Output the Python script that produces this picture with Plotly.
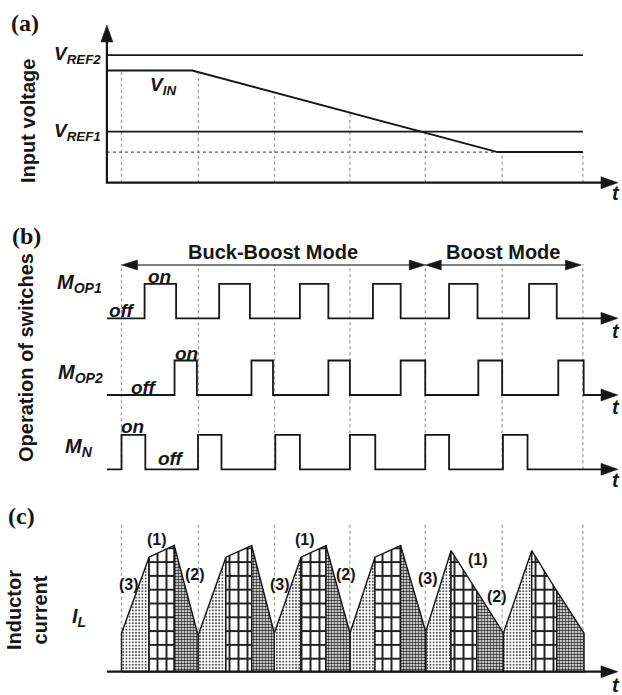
import numpy as np
import plotly.graph_objects as go

W, H = 622, 695

# ---------------- data (time in switching periods) ----------------
period_edges = [0.0, 1.0, 1.99, 2.97, 3.95, 4.95, 6.0]

# (a) input voltage
vref2 = 5.0
vref1 = 2.0
vin_t = [-0.19, 0.92, 4.89, 6.0]
vin_v = [4.4, 4.4, 1.2, 1.2]

# (b) switch on-intervals
mop1_on = [(0.30, 0.71), (1.27, 1.67), (2.32, 2.69), (3.27, 3.63), (4.26, 4.63), (5.30, 5.66)]
mop2_on = [(0.69, 0.98), (1.69, 1.97), (2.69, 2.97), (3.63, 3.95), (4.64, 4.95), (5.68, 6.01)]
mn_on = [(0.0, 0.31), (0.995, 1.30), (2.0, 2.32), (2.97, 3.30), (3.95, 4.26), (4.96, 5.28)]

mode_names = ["Buck-Boost Mode", "Boost Mode"]
mode_start = [0.0, 3.95]
mode_end = [3.95, 5.98]

# (c) inductor current per period: start, end of phase (3), end of phase (1), end of phase (2)
il_t = [
    [0.0, 0.358, 0.686, 0.996],
    [0.996, 1.358, 1.693, 1.987],
    [1.987, 2.334, 2.659, 2.971],
    [2.971, 3.296, 3.630, 3.956],
    [3.956, 4.285, 4.619, 4.966],
    [4.966, 5.335, 5.660, 6.015],
]
il_v = [
    [1.54, 4.58, 5.05, 1.45],
    [1.45, 4.58, 5.04, 1.54],
    [1.54, 4.58, 5.04, 1.54],
    [1.54, 4.58, 5.04, 1.60],
    [1.60, 4.84, 3.23, 1.54],
    [1.54, 4.84, 3.23, 1.54],
]

# ---------------- layout helpers ----------------
X0_PX, PERIOD_PX = 121.5, 76.9
T_AX0 = -0.19          # left end of time axes
T_AX1 = 6.456          # arrow tip of time axes


def yaxis_cfg(px_top, px_bot, px_zero, ppu):
    return dict(domain=[1 - px_bot / H, 1 - px_top / H],
                range=[(px_zero - px_bot) / ppu, (px_zero - px_top) / ppu],
                visible=False, anchor="x", fixedrange=True)


def tx(px):
    return (px - X0_PX) / PERIOD_PX


A_ZERO, A_PPU = 182.7, 25.5
B_ZERO, B_PPU = 469.3, 34.5
C_ZERO, C_PPU = 671.7, 25.0
PPU = {"y": A_PPU, "y2": B_PPU, "y3": C_PPU}


def ya(px):
    return (A_ZERO - px) / A_PPU


def yb(px):
    return (B_ZERO - px) / B_PPU


def yc(px):
    return (C_ZERO - px) / C_PPU


row_base = {"mop1": yb(318.3), "mop2": yb(395.0), "mn": 0.0}

fig = go.Figure()
BLACK = "#161616"
DASH = "#a0a0a0"


def line(x, y, yref, color=BLACK, width=1.8, dash=None):
    fig.add_trace(go.Scatter(x=x, y=y, mode="lines", yaxis=yref, hoverinfo="skip",
                             line=dict(color=color, width=width, dash=dash)))


def head(x, y, yref, direction, length=17, half=6, color=BLACK):
    ppu = PPU[yref]
    if direction in ("right", "left"):
        d = length / PERIOD_PX * (1 if direction == "right" else -1)
        h = half / ppu
        xs, ys = [x, x - d, x - d, x], [y, y + h, y - h, y]
    else:
        d = length / ppu
        h = half / PERIOD_PX
        xs, ys = [x, x - h, x + h, x], [y, y - d, y - d, y]
    fig.add_trace(go.Scatter(x=xs, y=ys, mode="lines", yaxis=yref, fill="toself",
                             fillcolor=color, hoverinfo="skip",
                             line=dict(width=0.5, color=color)))


# ---------------- panel (a) ----------------
vin_at = np.interp(period_edges, vin_t, vin_v)
for t, v in zip(period_edges, vin_at):
    line([t, t], [0, v], "y", color=DASH, width=1.3, dash="3px,3px")
line([T_AX0, vin_t[2]], [vin_v[-1], vin_v[-1]], "y", color="#555", width=1.4, dash="dot")
line([T_AX0, period_edges[-1]], [vref2, vref2], "y", width=1.8)
line([T_AX0, period_edges[-1]], [vref1, vref1], "y", width=1.8)
line(vin_t, vin_v, "y", width=2.0)
line([T_AX0, T_AX0, T_AX1 - 0.1], [ya(30), 0, 0], "y", width=2.2)
head(T_AX0, ya(25), "y", "up")
head(T_AX1, 0, "y", "right")

# ---------------- panel (b) ----------------
for t in period_edges:
    line([t, t], [0, yb(264)], "y2", color=DASH, width=1.3, dash="3px,3px")


def step_wave(on_list, base):
    xs, ys = [T_AX0], [base]
    for a, b in on_list:
        xs += [a, a, b, b]
        ys += [base, base + 1, base + 1, base]
    xs.append(T_AX1 - 0.1)
    ys.append(base)
    return xs, ys


for key, on in (("mop1", mop1_on), ("mop2", mop2_on), ("mn", mn_on)):
    xs, ys = step_wave(on, row_base[key])
    line(xs, ys, "y2", width=1.8)
    head(T_AX1, row_base[key], "y2", "right")

arrow_y = yb(265)
for name, s, e in zip(mode_names, mode_start, mode_end):
    line([s + 0.05, e - 0.05], [arrow_y, arrow_y], "y2", color="#555", width=1.6)
    head(s, arrow_y, "y2", "left", length=16, half=5)
    head(e, arrow_y, "y2", "right", length=16, half=5)

# ---------------- panel (c) ----------------
for t in period_edges:
    line([t, t], [0, yc(523.3)], "y3", color=DASH, width=1.3, dash="3px,3px")

regions = [[], [], []]
for ts, vs in zip(il_t, il_v):
    for k in range(3):
        regions[k].append(([ts[k], ts[k], ts[k + 1], ts[k + 1], ts[k]],
                           [0, vs[k], vs[k + 1], 0, 0]))


def poly_trace(polys, pattern_list):
    xs, ys = [], []
    for px_, py_ in polys:
        xs += px_ + [None]
        ys += py_ + [None]
    for i, pat in enumerate(pattern_list):
        last = i == len(pattern_list) - 1
        fig.add_trace(go.Scatter(
            x=xs, y=ys, mode="lines", yaxis="y3", fill="toself", hoverinfo="skip",
            connectgaps=False,
            line=dict(color=BLACK, width=1.4 if last else 0),
            fillpattern=pat))


poly_trace(regions[0], [dict(shape=".", size=3.2, solidity=0.28, fgcolor="#4a4a4a",
                             bgcolor="white", fillmode="replace")])
poly_trace(regions[1], [dict(shape="|", size=9, solidity=0.22, fgcolor="#222",
                             bgcolor="white", fillmode="replace"),
                        dict(shape="-", size=13.8, solidity=0.14, fgcolor="#222",
                             bgcolor="rgba(0,0,0,0)", fillmode="replace")])
poly_trace(regions[2], [dict(shape=".", size=3, solidity=0.55, fgcolor="#2a2a2a",
                             bgcolor="white", fillmode="replace")])

line([T_AX0, T_AX1 - 0.1], [0, 0], "y3", width=2.2)
head(T_AX1, 0, "y3", "right")

# ---------------- text ----------------
SANS = "Liberation Sans"
SERIF = "Liberation Serif"
anns = []


def ann(text, x, y, yref="y", xref="x", size=19, family=SANS, xanchor="center",
        yanchor="middle", angle=0):
    anns.append(dict(text=text, x=x, y=y, xref=xref, yref=yref, showarrow=False,
                     xanchor=xanchor, yanchor=yanchor, textangle=angle,
                     font=dict(family=family, size=size, color=BLACK)))


# panel titles
for lab, cx, cy in (("(a)", 25, 23), ("(b)", 26, 236), ("(c)", 21, 516)):
    ann("<b>%s</b>" % lab, cx / W, 1 - cy / H, xref="paper", yref="paper", size=24, family=SERIF)
ann("<b>Input voltage</b>", 28 / W, 1 - 121 / H, xref="paper", yref="paper", size=20, angle=-90)
ann("<b>Operation of switches</b>", 26 / W, 1 - 358 / H, xref="paper", yref="paper", size=20, angle=-90)
ann("<b>Inductor<br>current</b>", 27 / W, 1 - 610 / H, xref="paper", yref="paper", size=20, angle=-90)

# panel (a)
ann("<b><i>V<sub>REF2</sub></i></b>", tx(103), vref2, "y", xanchor="right", size=19)
ann("<b><i>V<sub>REF1</sub></i></b>", tx(103), vref1, "y", xanchor="right", size=19)
ann("<b><i>V<sub>IN</sub></i></b>", tx(148), ya(86), "y", xanchor="left", size=19)

# t labels
for yref, yv in (("y", ya(193)), ("y2", yb(331)), ("y2", yb(407)), ("y2", yb(480)), ("y3", yc(685))):
    ann("<b><i>t</i></b>", tx(616), yv, yref, size=20)

# panel (b)
for name, s, e in zip(mode_names, mode_start, mode_end):
    ann("<b>%s</b>" % name, (s + e) / 2, yb(252), "y2", size=20)
ann("<b><i>M<sub>OP1</sub></i></b>", tx(79), yb(283), "y2", size=20)
ann("<b><i>M<sub>OP2</sub></i></b>", tx(80), yb(373), "y2", size=20)
ann("<b><i>M<sub>N</sub></i></b>", tx(79), yb(447), "y2", size=20)
ann("<b><i>on</i></b>", tx(159), yb(276), "y2", size=19)
ann("<b><i>off</i></b>", tx(121.5), yb(310), "y2", size=19)
ann("<b><i>on</i></b>", tx(186), yb(353), "y2", size=19)
ann("<b><i>off</i></b>", tx(143.5), yb(387), "y2", size=19)
ann("<b><i>on</i></b>", tx(132.5), yb(426), "y2", size=19)
ann("<b><i>off</i></b>", tx(171), yb(458), "y2", size=19)

# panel (c)
ann("<b><i>I<sub>L</sub></i></b>", tx(79), yc(617), "y3", size=20)
for lab, pxx, pyy in (("(1)", 156.7, 539.3), ("(1)", 305, 539.3), ("(1)", 477.7, 559.3),
                      ("(2)", 195, 574), ("(2)", 346, 574), ("(2)", 496.7, 596.7),
                      ("(3)", 129.3, 584), ("(3)", 280, 584), ("(3)", 428.3, 578.3)):
    ann("<b>%s</b>" % lab, tx(pxx), yc(pyy), "y3", size=16)

fig.update_layout(
    width=W, height=H, margin=dict(l=0, r=0, t=0, b=0),
    paper_bgcolor="white", plot_bgcolor="white", showlegend=False, hovermode=False,
    xaxis=dict(domain=[0, 1], range=[tx(0), tx(W)], visible=False, fixedrange=True),
    yaxis=yaxis_cfg(0, 205, A_ZERO, A_PPU),
    yaxis2=yaxis_cfg(205, 500, B_ZERO, B_PPU),
    yaxis3=yaxis_cfg(500, 695, C_ZERO, C_PPU),
    annotations=anns,
)

fig.write_html("out.html", config={"displayModeBar": False, "staticPlot": True},
               post_script="document.body.style.margin='0';document.body.style.overflow='hidden';")
